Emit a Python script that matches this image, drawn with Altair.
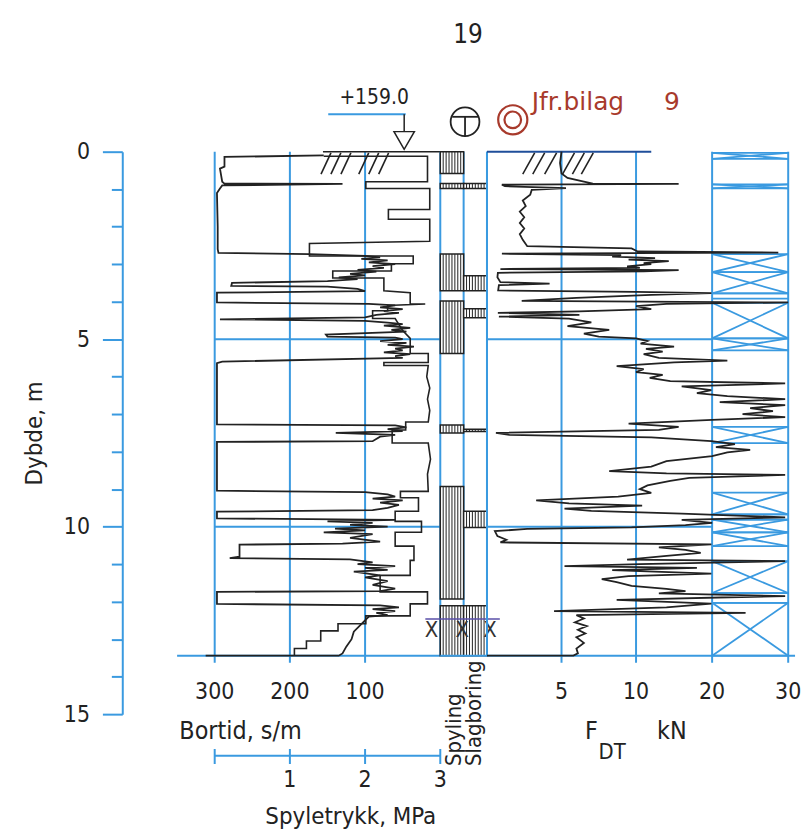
import altair as alt
import pandas as pd

FONT = "'DejaVu Sans Condensed', 'Liberation Sans Narrow', 'DejaVu Sans', sans-serif"
FONT2 = "'DejaVu Sans', sans-serif"
BLUE = "#3a9ae0"
DARK = "#222222"
RED = "#a83a2c"
NAVY = "#1f4e9a"

# ---------------- data ----------------
depth_ticks = list(range(16))
bortid_ticks = [300, 200, 100]
spy_ticks = [0, 1, 2, 3]
spy_labels = [1, 2, 3]
fdt_ticks = [5, 10, 20, 30]

# Bortid (s/m) vs depth (m)
bortid_depth = [0.10, 0.14, 0.40, 0.45, 0.80, 0.85, 0.86, 0.90, 0.98, 1.10, 2.00, 2.60, 2.70, 2.73,
                2.78, 2.82, 2.86, 2.90, 2.95, 3.00, 3.05, 3.10, 3.15, 3.20, 3.26, 3.30, 3.35, 3.40, 3.45,
                3.50, 3.58, 3.60, 3.66, 3.72, 3.76, 4.02, 4.06, 4.10, 4.15, 4.20, 4.25, 4.30, 4.35, 4.42,
                4.47, 4.51, 4.56, 4.60, 4.64, 4.70, 4.75, 4.80, 4.88, 4.93, 4.96, 5.00, 5.05, 5.10, 5.15,
                5.20, 5.25, 5.30, 5.35, 5.40, 5.45, 5.50, 5.60, 5.64, 7.27, 7.30, 7.35, 7.40, 7.45, 7.50,
                7.55, 7.60, 7.72, 7.74, 9.04, 9.08, 9.14, 9.20, 9.25, 9.30, 9.36, 9.42, 9.50, 9.56, 9.60,
                9.78, 9.82, 9.86, 9.90, 9.95, 10.00, 10.05, 10.10, 10.15, 10.20, 10.30, 10.40, 10.45,
                10.48, 10.80, 10.84, 10.87, 10.95, 11.00, 11.05, 11.10, 11.15, 11.20, 11.30, 11.35,
                11.45, 11.55, 11.65, 11.72, 11.74, 12.06, 12.10, 12.15, 12.20, 12.25, 12.30, 12.36,
                12.40, 12.60, 12.80, 13.00, 13.20, 13.38, 13.44, 13.44]
bortid_val = [155, 287, 287, 293, 290, 287, 130, 290, 293, 297, 296, 296, 295, 174,
              100, 80, 105, 70, 95, 60, 90, 75, 110, 85, 120, 100, 135, 110, 150,
              277, 278, 150, 110, 100, 297, 297, 95, 60, 80, 50, 75, 55, 85, 100,
              293, 100, 70, 50, 75, 40, 65, 45, 152, 150, 60, 50, 80, 45, 70,
              35, 60, 50, 75, 40, 60, 50, 290, 297, 297, 60, 45, 70, 50, 139,
              60, 80, 90, 297, 297, 100, 70, 60, 90, 50, 80, 55, 70, 90, 297,
              297, 60, 150, 90, 120, 70, 140, 100, 155, 90, 120, 80, 130,
              267, 267, 280, 120, 90, 110, 60, 100, 70, 115, 80, 100,
              70, 90, 60, 80, 297, 297, 80, 55, 90, 60, 85, 70,
              95, 105, 115, 118, 125, 130, 135, 312]

# Spyletrykk (MPa) vs depth (m)
spy_depth = [0.12, 0.12, 0.80, 0.80, 0.98, 0.98, 1.54, 1.54, 1.80, 1.80, 2.39, 2.45, 2.78, 2.78,
             2.99, 2.99, 3.18, 3.18, 3.37, 3.37, 3.71, 3.76, 4.06, 4.06, 4.10, 4.24, 4.24, 4.45,
             4.45, 4.77, 4.98, 5.38, 5.38, 5.62, 5.62, 5.70, 5.70, 6.00, 6.30, 6.60, 6.90, 7.21,
             7.21, 7.42, 7.42, 7.77, 7.77, 8.20, 8.60, 9.06, 9.06, 9.23, 9.23, 9.59, 9.59, 9.86,
             9.86, 10.15, 10.15, 10.52, 10.52, 10.90, 10.90, 11.30, 11.30, 11.74, 11.74, 12.06,
             12.06, 12.38, 12.38, 12.59, 12.59, 12.78, 12.78, 13.05, 13.05, 13.25, 13.25, 13.44]
spy_val = [1.45, 2.83, 2.83, 2.01, 2.01, 2.86, 2.86, 2.31, 2.31, 2.86, 2.86, 1.26, 1.26, 2.64,
           2.64, 2.35, 2.35, 1.57, 1.57, 2.25, 2.25, 2.60, 2.60, 2.80, 2.30, 2.30, 2.10, 2.10,
           2.40, 2.50, 2.60, 2.60, 2.84, 2.84, 2.25, 2.25, 2.84, 2.82, 2.86, 2.83, 2.86, 2.84,
           2.54, 2.54, 2.36, 2.36, 2.84, 2.87, 2.83, 2.84, 2.47, 2.47, 2.71, 2.71, 2.40, 2.40,
           2.75, 2.75, 2.40, 2.40, 2.65, 2.65, 2.60, 2.60, 2.20, 2.20, 2.83, 2.83,
           2.60, 2.60, 2.01, 2.01, 1.64, 1.64, 1.41, 1.41, 1.22, 1.22, 1.06, 1.06]

# F_DT (kN) vs depth (m)
fdt_depth = [0.00, 0.30, 0.58, 0.70, 0.80, 0.85, 0.86, 0.88, 0.92, 0.97, 1.02, 1.15, 1.30, 1.45, 1.60,
             1.75, 1.90, 2.05, 2.20, 2.35, 2.52, 2.58, 2.66, 2.69, 2.72, 2.76, 2.80, 2.84, 2.88, 2.92,
             2.97, 3.00, 3.06, 3.10, 3.13, 3.16, 3.19, 3.23, 3.35, 3.48, 3.52, 3.56, 3.70, 3.74, 3.77,
             3.82, 3.90, 3.98, 4.02, 4.06, 4.12, 4.20, 4.26, 4.30, 4.35, 4.40, 4.45, 4.55, 4.65, 4.75,
             4.85, 4.93, 4.98, 5.05, 5.12, 5.20, 5.26, 5.33, 5.40, 5.50, 5.57, 5.62, 5.72, 5.80, 5.88,
             5.95, 6.03, 6.12, 6.18, 6.26, 6.36, 6.44, 6.52, 6.60, 6.68, 6.76, 6.84, 6.92, 7.00, 7.08,
             7.15, 7.25, 7.34, 7.42, 7.50, 7.55, 7.62, 7.72, 7.80, 7.88, 7.95, 8.02, 8.12, 8.25, 8.40,
             8.52, 8.58, 8.62, 8.70, 8.78, 8.90, 9.00, 9.10, 9.20, 9.30, 9.38, 9.44, 9.52, 9.58, 9.65,
             9.75, 9.82, 9.90, 9.96, 10.02, 10.06, 10.12, 10.25, 10.35, 10.42, 10.47, 10.55, 10.62,
             10.70, 10.78, 10.88, 10.92, 11.00, 11.05, 11.10, 11.16, 11.25, 11.32, 11.40, 11.48, 11.58,
             11.66, 11.72, 11.78, 11.85, 11.95, 12.05, 12.15, 12.25, 12.30, 12.36, 12.45, 12.55, 12.65,
             12.75, 12.85, 12.95, 13.10, 13.25, 13.38, 13.44, 13.44]
fdt_val = [5.0, 4.9, 5.0, 5.4, 6.5, 7.1, 15.6, 1.0, 1.2, 5.3, 3.0, 2.9, 2.4, 2.6, 2.2,
           2.5, 2.2, 2.5, 2.2, 2.4, 2.7, 9.7, 10.2, 28.7, 1.0, 9.0, 8.4, 12.5, 9.5, 14.3,
           11.0, 12.0, 9.4, 10.5, 0.9, 15.6, 11.0, 0.73, 0.7, 0.9, 4.2, 0.8, 0.75, 10.0, 19.9,
           12.0, 6.0, 2.33, 30.0, 14.0, 10.0, 12.0, 6.2, 0.73, 6.2, 0.8, 5.5, 7.0, 5.4, 8.2,
           6.5, 7.5, 10.0, 11.5, 10.6, 15.0, 11.3, 13.5, 11.0, 13.0, 22.0, 15.0, 8.7, 11.0, 10.0,
           13.5, 11.8, 14.5, 29.6, 16.0, 19.9, 18.0, 22.0, 29.6, 21.0, 29.6, 25.0, 28.0, 24.0, 29.6,
           20.0, 9.5, 15.6, 13.0, 0.6, 1.5, 12.0, 19.9, 23.0, 20.5, 25.0, 22.0, 20.0, 14.0, 12.0,
           8.2, 14.0, 29.6, 17.0, 14.5, 11.5, 10.5, 12.0, 8.8, 3.3, 5.5, 10.8, 5.2, 7.0, 16.0,
           29.6, 16.0, 20.0, 16.5, 9.7, 2.7, 0.53, 0.7, 1.3, 0.9, 19.9, 13.0, 16.5,
           18.5, 14.0, 9.4, 29.6, 10.5, 5.2, 18.0, 8.4, 19.9, 9.5, 7.7, 8.7, 9.7,
           14.0, 16.5, 13.0, 29.6, 8.7, 19.9, 14.0, 4.5, 24.4, 6.0, 6.5, 5.9, 6.7,
           6.1, 6.6, 6.0, 6.5, 6.0, 6.1, 5.8, 0.0]

# drilling-method columns (top, bottom depth)
spyling_top = [0.00, 0.85, 2.73, 3.98, 7.29, 8.93, 12.11]
spyling_bot = [0.58, 0.98, 3.71, 5.38, 7.50, 11.93, 13.44]
slag_top = [0.85, 3.31, 4.19, 7.40, 9.59, 12.11]
slag_bot = [0.98, 3.71, 4.43, 7.46, 10.02, 13.44]

# classification boxes in the 20-30 band (top, bottom, crossed)
box_top = [0.03, 0.87, 2.73, 3.21, 3.78, 4.03, 4.98, 7.34, 9.09, 9.67, 9.81, 10.15, 10.92, 11.77, 12.03]
box_bot = [0.19, 0.98, 3.21, 3.78, 3.92, 4.98, 5.30, 7.77, 9.67, 9.81, 10.15, 10.52, 11.77, 12.03, 13.44]
box_cross = [True, True, True, True, False, True, True, True, True, False, True, True, True, False, True]

# ---------------- helpers ----------------
FMAX = 30.9
yscale = alt.Scale(domain=[0, 15], reverse=True, nice=False, zero=False)
bscale = alt.Scale(domain=[0, 300], reverse=True, nice=False, zero=False)
sscale = alt.Scale(domain=[0, 3], nice=False, zero=False)
cscale = alt.Scale(domain=[0, 2], nice=False, zero=False)
fscale = alt.Scale(domain=[0, 10, FMAX], range=[0, 150, 310], nice=False, zero=False)


def Yd(f="y"):
    return alt.Y(f + ":Q", scale=yscale, axis=None)


def mkX(scale):
    def fx(f="x"):
        return alt.X(f + ":Q", scale=scale, axis=None)
    return fx


Xb, Xs, Xc, Xf = mkX(bscale), mkX(sscale), mkX(cscale), mkX(fscale)


def segs(df, X, color=BLUE, width=2.0):
    return alt.Chart(df).mark_rule(color=color, strokeWidth=width).encode(
        x=X("x"), x2=alt.X2("x2:Q"), y=Yd("y"), y2=alt.Y2("y2:Q"))


def texts(df, X, size, color=DARK, align="center", baseline="middle", angle=0, font=FONT):
    return alt.Chart(df).mark_text(fontSize=size, color=color, align=align, baseline=baseline,
                                   angle=angle, font=font).encode(x=X("x"), y=Yd("y"), text="t:N")


def trace(depth, val, X, width=1.8):
    df = pd.DataFrame({"y": depth, "x": val, "i": range(len(depth))})
    return alt.Chart(df).mark_line(color=DARK, strokeWidth=width).encode(
        x=X("x"), y=Yd("y"), order=alt.Order("i:Q"))


H = 566

# ---------------- panel 0: depth axis ----------------
depth_axis = alt.Axis(
    values=depth_ticks,
    labelExpr="datum.value % 5 === 0 ? datum.label : ''",
    tickSize={"condition": {"test": "datum.value % 5 === 0", "value": 20}, "value": 11},
    tickColor=BLUE, tickWidth=2, domainColor=BLUE, domainWidth=2,
    labelFont=FONT, labelFontSize=23, labelColor=DARK, labelPadding=13,
    labelOverlap=False, labelFlush=False, labelBound=False,
    title="Dybde, m", titleFont=FONT, titleFontSize=24, titleFontWeight="normal",
    titleColor=DARK, titlePadding=17, grid=False)
p0 = alt.Chart(pd.DataFrame({"y": [0.0]})).mark_point(opacity=0).encode(
    y=alt.Y("y:Q", scale=yscale, axis=depth_axis)).properties(width=93, height=H)

# ---------------- panel 1: bortid + spyletrykk ----------------
b_layers = [
    segs(pd.DataFrame({"x": bortid_ticks, "x2": bortid_ticks, "y": 0.0, "y2": 13.63}), Xb),
    segs(pd.DataFrame({"x": [300, 300, 350], "x2": [0, 0, 0], "y": [5, 10, 13.44], "y2": [5, 10, 13.44]}), Xb),
    segs(pd.DataFrame({"x": [156], "x2": [0], "y": [0.0], "y2": [0.0]}), Xb, DARK, 1.6),
]
hb = [158.6, 145.4, 132.1, 108.4, 95.1, 81.9]
b_layers.append(segs(pd.DataFrame({"x": hb, "x2": [v - 13.2 for v in hb], "y": 0.6, "y2": 0.03}), Xb, DARK, 1.6))
b_layers.append(trace(bortid_depth, bortid_val, Xb))
b_layers.append(texts(pd.DataFrame({"x": bortid_ticks, "y": 14.42, "t": [str(v) for v in bortid_ticks]}), Xb, 23))
b_layers.append(texts(pd.DataFrame({"x": [347], "y": [15.45], "t": ["Bortid, s/m"]}), Xb, 25, align="left"))
b_layers.append(texts(pd.DataFrame({"x": [88], "y": [-1.43], "t": ["+159.0"]}), Xb, 21))
b_layers.append(segs(pd.DataFrame({"x": [149], "x2": [46], "y": [-1.0], "y2": [-1.0]}), Xb, BLUE, 2))
b_layers.append(segs(pd.DataFrame({"x": [48], "x2": [48], "y": [-1.0], "y2": [-0.53]}), Xb, DARK, 1.5))
b_layers.append(alt.Chart(pd.DataFrame({"x": [48], "y": [-0.30]})).mark_point(
    shape="triangle-down", size=420, filled=True, fill="white", stroke=DARK, strokeWidth=1.5,
    opacity=1).encode(x=Xb("x"), y=Yd("y")))

s_layers = [
    trace(spy_depth, spy_val, Xs, 1.6),
    segs(pd.DataFrame({"x": [0], "x2": [3], "y": [16.11], "y2": [16.11]}), Xs),
    segs(pd.DataFrame({"x": spy_ticks, "x2": spy_ticks, "y": 15.93, "y2": 16.33}), Xs),
    texts(pd.DataFrame({"x": spy_labels, "y": 16.75, "t": [str(v) for v in spy_labels]}), Xs, 23),
    texts(pd.DataFrame({"x": [1.81], "y": [17.75], "t": ["Spyletrykk, MPa"]}), Xs, 24),
]
p1 = alt.layer(alt.layer(*b_layers), alt.layer(*s_layers)).resolve_scale(x="independent").properties(
    width=227, height=H)

# ---------------- panel 2: Spyling / Slagboring columns ----------------
blk_x, blk_x2, blk_y, blk_y2 = [], [], [], []
for t, b in zip(spyling_top, spyling_bot):
    blk_x.append(0); blk_x2.append(1); blk_y.append(t); blk_y2.append(b)
for t, b in zip(slag_top, slag_bot):
    blk_x.append(1); blk_x2.append(2); blk_y.append(t); blk_y2.append(b)
blocks = pd.DataFrame({"x": blk_x, "x2": blk_x2, "y": blk_y, "y2": blk_y2})
hx, hx2, hy, hy2 = [], [], [], []
for x0, t, b in zip(blk_x, blk_y, blk_y2):
    for k in range(1, 8):
        hx.append(x0 + k / 8); hx2.append(x0 + k / 8); hy.append(t); hy2.append(b)
c_layers = [
    segs(pd.DataFrame({"x": [0, 1, 2], "x2": [0, 1, 2], "y": 0.0, "y2": 13.44}), Xc, BLUE, 2),
    alt.Chart(blocks).mark_rect(fill="white", stroke=DARK, strokeWidth=1.5).encode(
        x=Xc("x"), x2=alt.X2("x2:Q"), y=Yd("y"), y2=alt.Y2("y2:Q")),
    segs(pd.DataFrame({"x": hx, "x2": hx2, "y": hy, "y2": hy2}), Xc, DARK, 1.0),
    segs(pd.DataFrame({"x": [0], "x2": [2], "y": [13.44], "y2": [13.44]}), Xc, BLUE, 2),
    segs(pd.DataFrame({"x": [-0.64], "x2": [2.55], "y": [12.46], "y2": [12.46]}), Xc, "#5a4fa8", 1.5),
    texts(pd.DataFrame({"x": [-0.38, 0.94, 2.13], "y": 12.75, "t": "X"}), Xc, 22, color="#333333"),
    texts(pd.DataFrame({"x": [0.6, 1.45], "y": 16.38, "t": ["Spyling", "Slagboring"]}), Xc, 22,
          align="left", angle=270),
    texts(pd.DataFrame({"x": [1.19], "y": [-3.10], "t": ["19"]}), Xc, 26),
    alt.Chart(pd.DataFrame({"x": [1.06], "y": [-0.80]})).mark_point(
        shape="circle", size=840, stroke=DARK, strokeWidth=1.8, opacity=1).encode(x=Xc("x"), y=Yd("y")),
    segs(pd.DataFrame({"x": [0.51, 1.06], "x2": [1.62, 1.06], "y": [-0.93, -0.93], "y2": [-0.93, -0.40]}),
         Xc, DARK, 1.8),
]
p2 = alt.layer(*c_layers).properties(width=47, height=H)

# ---------------- panel 3: F_DT ----------------
bx, bx2, by, by2 = [], [], [], []
for t, b, c in zip(box_top, box_bot, box_cross):
    for yy in (t, b):
        bx.append(20); bx2.append(30); by.append(yy); by2.append(yy)
    if c:
        bx += [20, 20]; bx2 += [30, 30]; by += [t, b]; by2 += [b, t]
hf = [2.4, 3.07, 3.87, 5.07, 5.73, 6.33]
f_layers = [
    segs(pd.DataFrame({"x": [0], "x2": [0], "y": [0.0], "y2": [13.44]}), Xf),
    segs(pd.DataFrame({"x": [5, 10, 20, 30], "x2": [5, 10, 20, 30], "y": 0.0, "y2": 13.63}), Xf),
    segs(pd.DataFrame({"x": [0, 0, 0], "x2": [20, 20, FMAX], "y": [5, 10, 13.44], "y2": [5, 10, 13.44]}), Xf),
    segs(pd.DataFrame({"x": [0], "x2": [12.0], "y": [0.0], "y2": [0.0]}), Xf, NAVY, 2),
    segs(pd.DataFrame({"x": bx, "x2": bx2, "y": by, "y2": by2}), Xf, BLUE, 1.8),
    segs(pd.DataFrame({"x": hf, "x2": [v + 0.8 for v in hf], "y": 0.6, "y2": 0.03}), Xf, DARK, 1.6),
    trace(fdt_depth, fdt_val, Xf),
    texts(pd.DataFrame({"x": fdt_ticks, "y": 14.42, "t": [str(v) for v in fdt_ticks]}), Xf, 23),
    texts(pd.DataFrame({"x": [7.0], "y": [15.46], "t": ["F"]}), Xf, 25),
    texts(pd.DataFrame({"x": [8.4], "y": [16.0], "t": ["DT"]}), Xf, 22),
    texts(pd.DataFrame({"x": [12.75], "y": [15.46], "t": ["kN"]}), Xf, 25, align="left"),
    alt.Chart(pd.DataFrame({"x": [1.73, 1.73], "y": [-0.85, -0.85], "s": [860, 280]})).mark_point(
        shape="circle", stroke=RED, strokeWidth=2.2, opacity=1).encode(
        x=Xf("x"), y=Yd("y"), size=alt.Size("s:Q", scale=None, legend=None)),
    texts(pd.DataFrame({"x": [3.0], "y": [-1.33], "t": ["Jfr.bilag"]}), Xf, 25, color=RED,
          align="left", font=FONT2),
    texts(pd.DataFrame({"x": [14.7], "y": [-1.33], "t": ["9"]}), Xf, 25, color=RED, font=FONT2),
]
p3 = alt.layer(*f_layers).properties(width=310, height=H)

chart = alt.hconcat(p0, p1, p2, p3, spacing=0).properties(
    bounds="flush", padding={"left": 14, "top": 11, "right": 0, "bottom": 0}
).configure_view(stroke="transparent")

chart.save("out.html", embed_options={"renderer": "svg", "actions": False})
